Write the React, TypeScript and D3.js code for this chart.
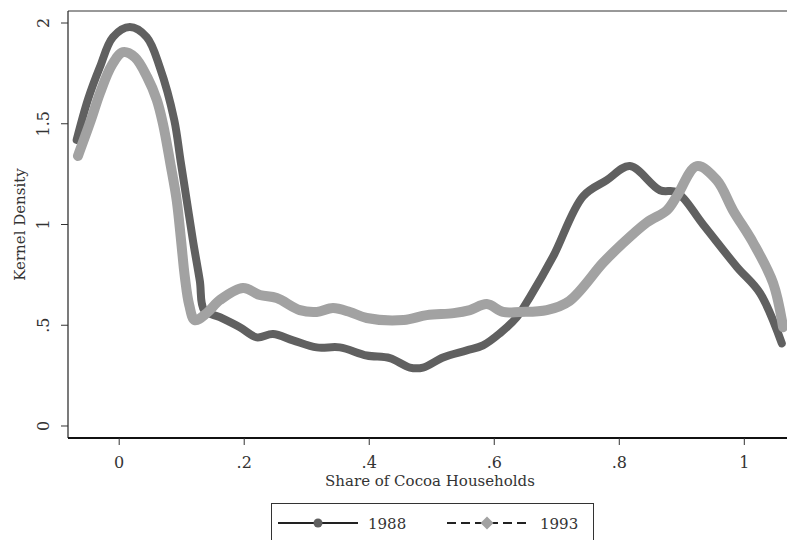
import * as d3 from "d3";

// kernel density estimates
const x1988 = [-0.068, -0.05, -0.031, -0.01, 0.017, 0.044, 0.065, 0.088, 0.098, 0.108, 0.118, 0.129, 0.136, 0.161, 0.193, 0.22, 0.246, 0.278, 0.316, 0.353, 0.396, 0.433, 0.465, 0.486, 0.518, 0.556, 0.582, 0.609, 0.636, 0.657, 0.694, 0.742, 0.78, 0.817, 0.865, 0.892, 0.934, 0.988, 1.025, 1.06];
const d1988 = [1.42, 1.62, 1.78, 1.93, 1.98, 1.93, 1.78, 1.52, 1.32, 1.12, 0.92, 0.72, 0.575, 0.54, 0.49, 0.44, 0.456, 0.425, 0.39, 0.39, 0.35, 0.337, 0.29, 0.29, 0.34, 0.375, 0.4, 0.46, 0.54, 0.64, 0.84, 1.14, 1.22, 1.29, 1.17, 1.16, 1.0, 0.79, 0.66, 0.41];

const x1993 = [-0.066, -0.045, -0.031, -0.012, 0.006, 0.025, 0.045, 0.06, 0.07, 0.082, 0.092, 0.099, 0.105, 0.112, 0.121, 0.14, 0.161, 0.198, 0.225, 0.252, 0.289, 0.316, 0.342, 0.369, 0.396, 0.455, 0.492, 0.535, 0.561, 0.588, 0.614, 0.641, 0.684, 0.72, 0.774, 0.8, 0.844, 0.876, 0.892, 0.924, 0.956, 0.982, 1.014, 1.046, 1.062];
const d1993 = [1.34, 1.52, 1.65, 1.79, 1.855, 1.83, 1.73, 1.62, 1.5, 1.3, 1.12, 0.92, 0.74, 0.6, 0.525, 0.56, 0.625, 0.685, 0.65, 0.635, 0.575, 0.566, 0.585, 0.566, 0.536, 0.526, 0.55, 0.56, 0.575, 0.605, 0.566, 0.566, 0.575, 0.62, 0.81, 0.89, 1.01, 1.07, 1.14, 1.29, 1.22, 1.07, 0.91, 0.71, 0.49];

const xTicks = [0, 0.2, 0.4, 0.6, 0.8, 1];
const xTickLabels = ["0", ".2", ".4", ".6", ".8", "1"];
const yTicks = [0, 0.5, 1, 1.5, 2];
const yTickLabels = ["0", ".5", "1", "1.5", "2"];
const seriesNames = ["1988", "1993"];

const W = 787;
const H = 540;
const left = 68;
const right = 792;
const top = 11;
const bottom = 438;
const font = "'DejaVu Serif', serif";
const dark = "#606060";
const light = "#a2a2a2";

export default function App() {
  const x = d3.scaleLinear().domain([-0.0819, 1.0763]).range([left, right]);
  const y = d3.scaleLinear().domain([-0.0596, 2.0596]).range([bottom, top]);

  const line = d3
    .line<[number, number]>()
    .x((d) => x(d[0]))
    .y((d) => y(d[1]))
    .curve(d3.curveCatmullRom.alpha(0.5));

  const pts1988 = x1988.map((v, i) => [v, d1988[i]] as [number, number]);
  const pts1993 = x1993.map((v, i) => [v, d1993[i]] as [number, number]);

  const cx = (left + right) / 2;
  const cy = (top + bottom) / 2;

  return (
    <svg
      width={W}
      height={H}
      style={{ position: "absolute", left: 0, top: 0, background: "#fff" }}
      fontFamily={font}
    >
      <rect x={0} y={0} width={W} height={H} fill="#fff" />

      {/* data */}
      <path d={line(pts1988) || ""} fill="none" stroke={dark} strokeWidth={8} strokeLinejoin="round" strokeLinecap="round" />
      <path d={line(pts1993) || ""} fill="none" stroke={light} strokeWidth={10} strokeLinejoin="round" strokeLinecap="round" />

      {/* frame */}
      <line x1={left} x2={right} y1={top} y2={top} stroke="#333" strokeWidth={1} />
      <line x1={left} x2={left} y1={top} y2={bottom} stroke="#222" strokeWidth={1.2} />
      <line x1={left} x2={right} y1={bottom} y2={bottom} stroke="#111" strokeWidth={2} />

      {/* y axis */}
      {yTicks.map((t, i) => (
        <g key={"y" + i}>
          <line x1={left - 7} x2={left} y1={y(t)} y2={y(t)} stroke="#333" strokeWidth={1} />
          <text
            transform={`translate(${49},${y(t)}) rotate(-90)`}
            textAnchor="middle"
            fontSize={16}
            fill="#333"
          >
            {yTickLabels[i]}
          </text>
        </g>
      ))}
      <text
        transform={`translate(${25},${cy}) rotate(-90)`}
        textAnchor="middle"
        fontSize={15}
        fill="#333"
      >
        Kernel Density
      </text>

      {/* x axis */}
      {xTicks.map((t, i) => (
        <g key={"x" + i}>
          <line x1={x(t)} x2={x(t)} y1={bottom} y2={bottom + 7} stroke="#333" strokeWidth={1} />
          <text x={x(t)} y={468} textAnchor="middle" fontSize={16} fill="#333">
            {xTickLabels[i]}
          </text>
        </g>
      ))}
      <text x={cx} y={486} textAnchor="middle" fontSize={15} fill="#333">
        Share of Cocoa Households
      </text>

      {/* legend */}
      <rect x={271.5} y={503.5} width={322} height={50} fill="#fff" stroke="#333" strokeWidth={1} />
      <line x1={278} x2={358} y1={523} y2={523} stroke="#222" strokeWidth={2} />
      <circle cx={318} cy={523} r={4.5} fill={dark} />
      <text x={368} y={528.5} fontSize={15} fill="#333">
        {seriesNames[0]}
      </text>
      <line x1={447} x2={527} y1={523} y2={523} stroke="#222" strokeWidth={2} strokeDasharray="9 5" />
      <path d={`M487,516.5 L493.5,523 L487,529.5 L480.5,523 Z`} fill={light} />
      <text x={540} y={528.5} fontSize={15} fill="#333">
        {seriesNames[1]}
      </text>
    </svg>
  );
}
